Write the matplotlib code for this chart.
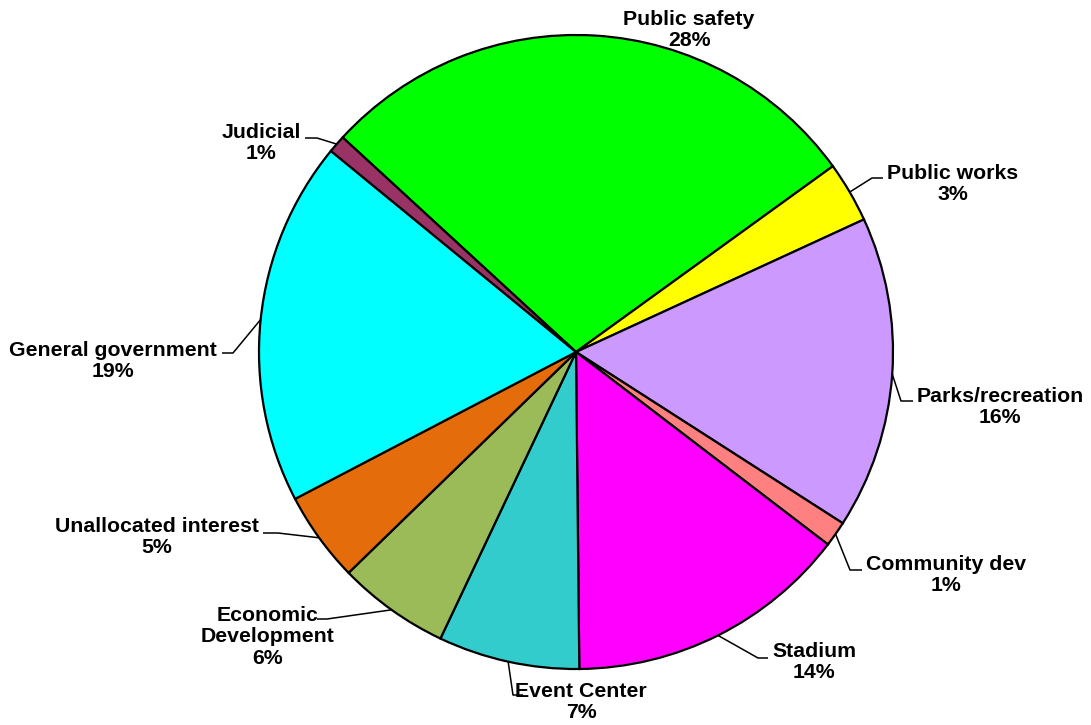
import numpy as np
import matplotlib
matplotlib.use("Agg")
import matplotlib.pyplot as plt

categories = ["Public safety", "Public works", "Parks/recreation", "Community dev",
              "Stadium", "Event Center", "Economic\nDevelopment", "Unallocated interest",
              "General government", "Judicial"]
values = [28.2, 3.1, 15.95, 1.3, 14.45, 7.2, 5.7, 4.6, 18.6, 0.9]
colors = ["#00FF00", "#FFFF00", "#CC99FF", "#FF8080", "#FF00FF",
          "#33CCCC", "#9BBB59", "#E46C0A", "#00FFFF", "#993366"]

W, H = 1091, 725
CX, CY, R = 576, 352, 317

fig = plt.figure(figsize=(W / 100, H / 100), dpi=100)
ax = fig.add_axes([0, 0, 1, 1])

def px(x, y):
    return ((x - CX) / R, (CY - y) / R)

start = 137.4
wedges, _ = ax.pie(values, colors=colors, startangle=start, counterclock=False,
                   radius=1.0, center=(0, 0), frame=True,
                   wedgeprops=dict(edgecolor="black", linewidth=1.6))
ax.set_xlim(-CX / R, (W - CX) / R)
ax.set_ylim(-(H - CY) / R, CY / R)
ax.set_aspect("auto")
ax.axis("off")

# label layout: text centre (px), elbow (px), end of horizontal (px)
layout = [
    ((689, 30), None, None),
    ((953, 184), (872, 178), (883, 178)),
    ((1000, 407), (901, 401), (913, 401)),
    ((946, 575), (850, 570), (862, 570)),
    ((814, 662), (758, 658), (768, 658)),
    ((581, 702), (513, 695), (523, 695)),
    ((268, 637), (327, 619), (317, 619)),
    ((157, 537), (278, 533), (263, 533)),
    ((113, 361), (233, 353), (222, 353)),
    ((261, 143), (317, 138), (305, 138)),
]

total = sum(values)
for w, cat, v, (tc, elbow, end) in zip(wedges, categories, values, layout):
    pct = round(v / total * 100)
    label = f"{cat}\n{pct}%"
    ax.text(*px(*tc), label, ha="center", va="center", multialignment="center",
            fontsize=15.3, fontweight="bold", family="Liberation Sans",
            linespacing=1.18, color="black")
    if elbow is not None:
        mid = np.deg2rad((w.theta1 + w.theta2) / 2)
        ax_pt = (np.cos(mid), np.sin(mid))
        e = px(*elbow)
        t = px(*end)
        ax.plot([ax_pt[0], e[0], t[0]], [ax_pt[1], e[1], t[1]],
                color="black", linewidth=1.1, solid_capstyle="butt")

fig.savefig("out.png", dpi=100)
